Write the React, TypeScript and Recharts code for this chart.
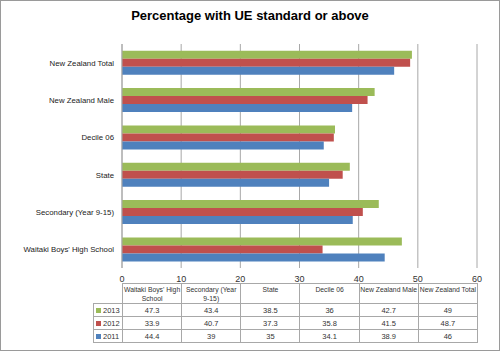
import React from "react";
import { BarChart, Bar, XAxis, YAxis, CartesianGrid } from "recharts";

// table order (left to right); the chart lists them bottom to top
const categories = [
  "Waitaki Boys' High School",
  "Secondary (Year 9-15)",
  "State",
  "Decile 06",
  "New Zealand Male",
  "New Zealand Total",
];
const years = ["2013", "2012", "2011"];
const colors = ["#9BBB59", "#C0504D", "#4F81BD"];
const v2013 = [47.3, 43.4, 38.5, 36, 42.7, 49];
const v2012 = [33.9, 40.7, 37.3, 35.8, 41.5, 48.7];
const v2011 = [44.4, 39, 35, 34.1, 38.9, 46];
const valueTicks = [0, 10, 20, 30, 40, 50, 60];

const series = [v2013, v2012, v2011];
const chartData = categories
  .map((name, i) => ({ name, y2013: v2013[i], y2012: v2012[i], y2011: v2011[i] }))
  .reverse();

const font = "'Liberation Sans', Arial, sans-serif";
const lineCol = "#a8a8a8";
const colW = 355 / 6;

// single-line category label, right aligned against the axis
const CatTick = ({ x, y, payload }: any) => (
  <text x={x} y={y} dy={3} textAnchor="end" fontSize={7.8} fill="#222" fontFamily={font}>
    {payload.value}
  </text>
);

export default function App() {
  const cell: React.CSSProperties = {
    border: `1px solid ${lineCol}`,
    textAlign: "center",
    padding: 0,
    color: "#333",
  };
  return (
    <div
      style={{
        position: "absolute",
        left: 0,
        top: 0,
        width: 500,
        height: 351,
        boxSizing: "border-box",
        border: "1px solid #9a9a9a",
        background: "#fff",
        fontFamily: font,
      }}
    >
      <div
        style={{
          position: "absolute",
          top: 7,
          left: 0,
          width: 498,
          textAlign: "center",
          fontWeight: "bold",
          fontSize: 13,
          color: "#000",
        }}
      >
        Percentage with UE standard or above
      </div>
      <div style={{ position: "absolute", left: -1, top: -1 }}>
        <BarChart
          width={500}
          height={290}
          data={chartData}
          layout="vertical"
          margin={{ top: 44, right: 23, bottom: 0, left: 0 }}
          barCategoryGap="18%"
          barGap={0}
        >
          <CartesianGrid horizontal={false} stroke={lineCol} />
          <XAxis
            type="number"
            domain={[0, 60]}
            ticks={valueTicks}
            axisLine={false}
            tickLine={false}
            height={22}
            tick={{ fontSize: 9, fill: "#333", fontFamily: font }}
          />
          <YAxis
            type="category"
            dataKey="name"
            width={122}
            axisLine={{ stroke: lineCol }}
            tickLine={false}
            interval={0}
            tick={<CatTick />}
          />
          {years.map((y, i) => (
            <Bar key={y} dataKey={`y${y}`} fill={colors[i]} isAnimationActive={false} />
          ))}
        </BarChart>
      </div>
      <table
        style={{
          position: "absolute",
          left: 92,
          top: 282,
          width: 29 + 355,
          borderCollapse: "collapse",
          tableLayout: "fixed",
          fontSize: 7.5,
          lineHeight: "9px",
          fontFamily: font,
        }}
      >
        <colgroup>
          <col style={{ width: 29 }} />
          {categories.map((c) => (
            <col key={c} style={{ width: colW }} />
          ))}
        </colgroup>
        <tbody>
          <tr style={{ height: 20 }}>
            <td style={{ border: "none", borderRight: `1px solid ${lineCol}`, borderBottom: `1px solid ${lineCol}` }} />
            {categories.map((c) => (
              <td key={c} style={{ ...cell, fontSize: 6.8, verticalAlign: "top", paddingTop: 1 }}>
                {c}
              </td>
            ))}
          </tr>
          {years.map((y, r) => (
            <tr key={y} style={{ height: 13 }}>
              <td style={{ ...cell, textAlign: "left", paddingLeft: 2, whiteSpace: "nowrap" }}>
                <span
                  style={{
                    display: "inline-block",
                    width: 5,
                    height: 5,
                    background: colors[r],
                    marginRight: 2,
                    verticalAlign: "middle",
                  }}
                />
                {y}
              </td>
              {series[r].map((v, i) => (
                <td key={i} style={cell}>
                  {v}
                </td>
              ))}
            </tr>
          ))}
        </tbody>
      </table>
    </div>
  );
}
